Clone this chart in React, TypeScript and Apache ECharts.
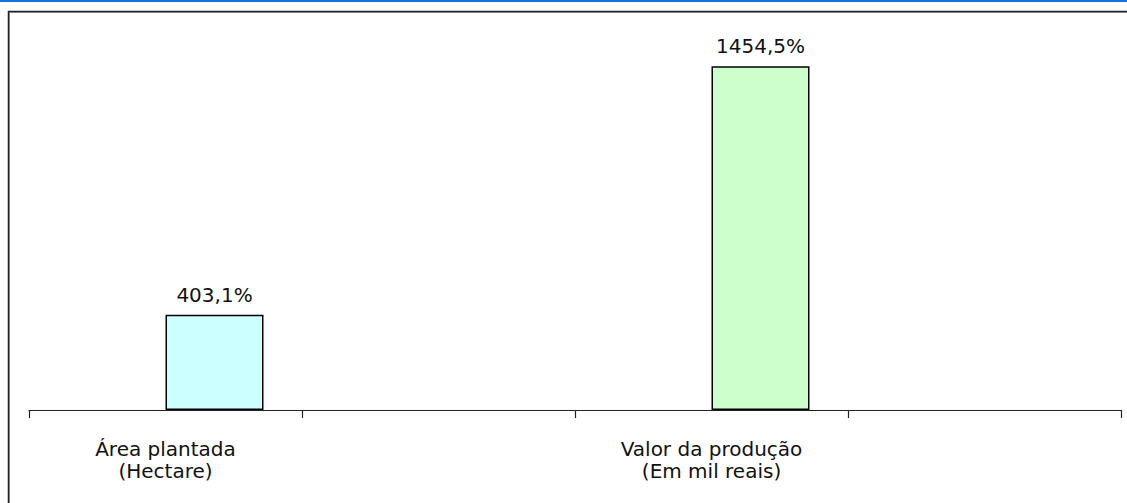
import React, { useEffect, useRef } from "react";
import * as echarts from "echarts";

const categories = ["Área plantada\n(Hectare)", "", "Valor da produção\n(Em mil reais)", ""];
const placeholderValues: (number | null)[] = [null, null, null, null];
const growthValues: (number | null)[] = [403.1, null, 1454.5, null];
const barColors = ["#CCFFFF", "#CCFFFF", "#CCFFCC", "#CCFFCC"];

const FONT = "DejaVu Sans";

export default function App() {
  const ref = useRef<HTMLDivElement>(null);
  useEffect(() => {
    if (!ref.current) return;
    const chart = echarts.init(ref.current, undefined, { renderer: "svg" });
    chart.setOption({
      animation: false,
      backgroundColor: "#ffffff",
      grid: { left: 29, right: 6, top: 32, bottom: 93, containLabel: false },
      graphic: [
        { type: "rect", shape: { x: 0, y: 0, width: 1127, height: 2 }, style: { fill: "#1a6fd6" }, silent: true },
        {
          type: "polyline",
          shape: { points: [[9.5, 503], [9.5, 12.5], [1127, 12.5]] },
          style: { fill: "none", stroke: "#a0a0a0", lineWidth: 1 },
          silent: true,
        },
        {
          type: "polyline",
          shape: { points: [[8.5, 503], [8.5, 11.5], [1127, 11.5]] },
          style: { fill: "none", stroke: "#222222", lineWidth: 1.5 },
          silent: true,
        },
      ],
      xAxis: {
        type: "category",
        data: categories,
        axisLine: { show: true, lineStyle: { color: "#222", width: 1.2 } },
        axisTick: { show: true, inside: false, length: 8, interval: 0, lineStyle: { color: "#222", width: 1.2 } },
        axisLabel: {
          interval: 0,
          margin: 28,
          fontFamily: FONT,
          fontSize: 20,
          lineHeight: 22,
          color: "#111111",
        },
        splitLine: { show: false },
      },
      yAxis: {
        type: "value",
        min: 0,
        max: 1600,
        show: false,
        splitLine: { show: false },
      },
      series: [
        {
          name: "Base",
          type: "bar",
          data: placeholderValues,
          barWidth: 98,
          barGap: "0%",
          itemStyle: { color: "#ffffff" },
        },
        {
          name: "Crescimento",
          type: "bar",
          barWidth: 98,
          barGap: "0%",
          data: growthValues.map((v, i) => ({
            value: v,
            itemStyle: { color: barColors[i], borderColor: "#000000", borderWidth: 1.5 },
          })),
          label: {
            show: true,
            position: "top",
            distance: 10,
            fontFamily: FONT,
            fontSize: 20,
            lineHeight: 20,
            color: "#111111",
            formatter: (p: any) =>
              p.value == null ? "" : Number(p.value).toFixed(1).replace(".", ",") + "%",
          },
        },
      ],
    });
    return () => chart.dispose();
  }, []);
  return (
    <div
      ref={ref}
      style={{ position: "absolute", left: 0, top: 0, width: 1127, height: 503 }}
    />
  );
}
